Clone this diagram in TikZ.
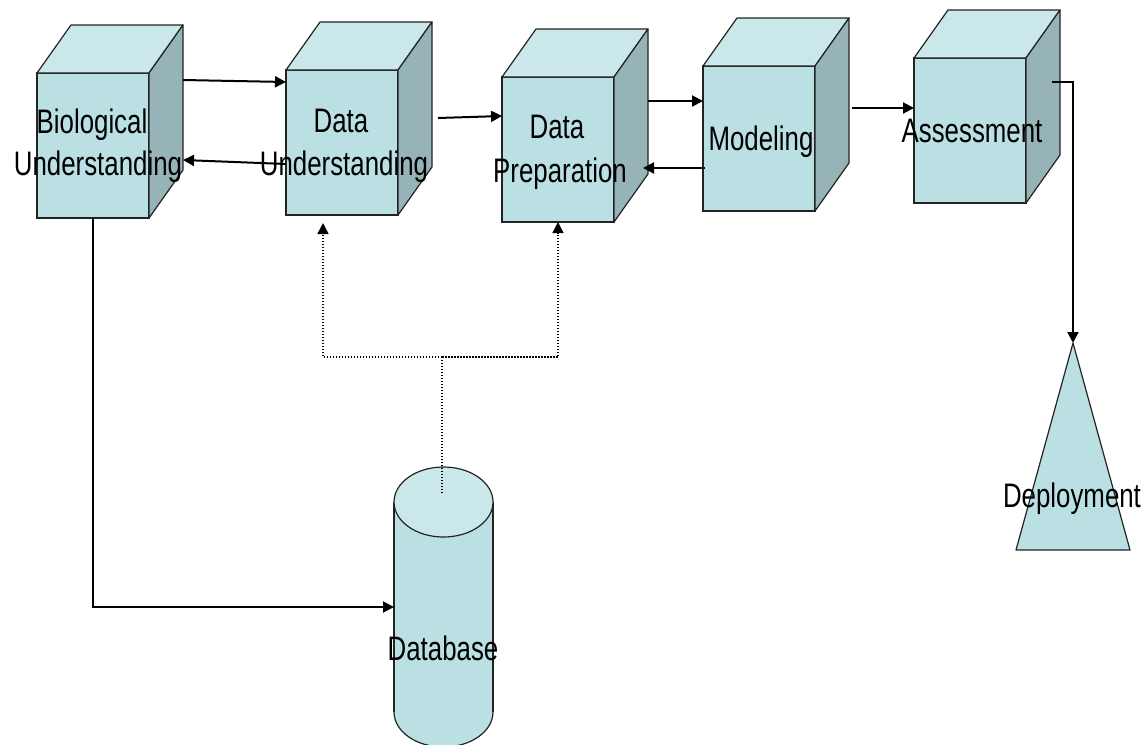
\documentclass[tikz,border=0pt]{standalone}
\usepackage{fontspec}
\setmainfont{Liberation Sans}[FakeStretch=0.76]
\usetikzlibrary{arrows.meta,calc}
\definecolor{frontc}{RGB}{186,224,228}
\definecolor{topc}{RGB}{202,231,234}
\definecolor{sidec}{RGB}{150,180,183}
\definecolor{edgec}{RGB}{35,35,35}
\newcommand\cubefaces[1]{%
  \draw[topface] (#1.north west) -- ++(34,-48) -- ++(112,0) -- (#1.north east) -- cycle;
  \draw[sideface] (#1.north east) -- ++(34,-48) -- ++(0,145) -- (#1.south east) -- cycle;}
\begin{document}
\begin{tikzpicture}[x=1pt,y=-1pt,
  front/.style={draw=edgec,fill=frontc,line width=1.2pt,minimum width=112pt,minimum height=145pt,inner sep=0pt,outer sep=0pt},
  topface/.style={draw=edgec,fill=topc,line width=1.2pt,line join=round},
  sideface/.style={draw=edgec,fill=sidec,line width=1.2pt,line join=round},
  lbl/.style={inner sep=0pt,anchor=base,font=\fontsize{34}{40}\selectfont},
  tip/.style={-{Triangle[length=11pt,width=11pt]}},
  arr/.style={line width=2pt,tip},
  dotline/.style={line width=1.5pt,dash pattern=on 1.5pt off 1.5pt},
  dots/.style={dotline,tip}]
\useasboundingbox (0,0) rectangle (1147,744);
% cubes
\node[front] (bio) at (93,145.5) {};
\cubefaces{bio}
\node[front] (du) at (342,142.5) {};
\cubefaces{du}
\node[front] (dp) at (558,149.5) {};
\cubefaces{dp}
\node[front] (mod) at (759,138.5) {};
\cubefaces{mod}
\node[front] (as) at (970,130.5) {};
\cubefaces{as}
% deployment triangle
\coordinate (deptop) at (1073,343);
\draw[draw=edgec,fill=frontc,line width=1.2pt,line join=round] (deptop) -- (1130,550) -- (1016,550) -- cycle;
% database cylinder
\filldraw[draw=edgec,fill=frontc,line width=1.2pt] (443.5,712) ellipse [x radius=49.5, y radius=35];
\fill[frontc] (394,502) rectangle (493,712);
\draw[edgec,line width=1.2pt] (394,502) -- (394,712) (493,502) -- (493,712);
\filldraw[draw=edgec,fill=topc,line width=1.2pt] (443.5,502) ellipse [x radius=49.5, y radius=35];
\coordinate (dbleft) at (394,607);
\coordinate (dbdot) at (442,493);
\coordinate (junc) at (442,357);
% connectors
\draw[arr] ($(bio.north east)+(34,7)$) -- ($(du.north west)+(0,12)$);
\draw[arr] ($(du.north west)+(0,94)$) -- ($(bio.north east)+(34,87)$);
\draw[arr] ($(du.north east)+(40,48)$) -- ($(dp.north west)+(0,39)$);
\draw[arr] ($(dp.north east)+(34,24)$) -- ($(mod.north west)+(0,35)$);
\draw[arr] ($(mod.north west)+(2,102)$) -- ($(dp.north east)+(29,91)$);
\draw[arr] ($(mod.north east)+(37,42)$) -- ($(as.north west)+(0,50)$);
\draw[arr] ($(as.north east)+(26,24)$) -| (deptop);
\draw[arr] (bio.south) |- (dbleft);
\draw[dotline] (dbdot) -- (junc);
\draw[dots] (junc) -| ($(du.south)+(-19,8)$);
\draw[dots] (junc) -| (dp.south);
% labels
\node[lbl] (t1a) at (92,133) {Biological};
\node[lbl] (t1b) at (98,175) {Understanding};
\node[lbl] (t2a) at (341,132) {Data};
\node[lbl] (t2b) at (344,175) {Understanding};
\node[lbl] (t3a) at (557,138) {Data};
\node[lbl] (t3b) at (560,182) {Preparation};
\node[lbl] (t4) at (761,150) {Modeling};
\node[lbl] (t5) at (972,142) {Assessment};
\node[lbl] (t6) at (1072,507) {Deployment};
\node[lbl] (t7) at (443,660) {Database};
\end{tikzpicture}
\end{document}
